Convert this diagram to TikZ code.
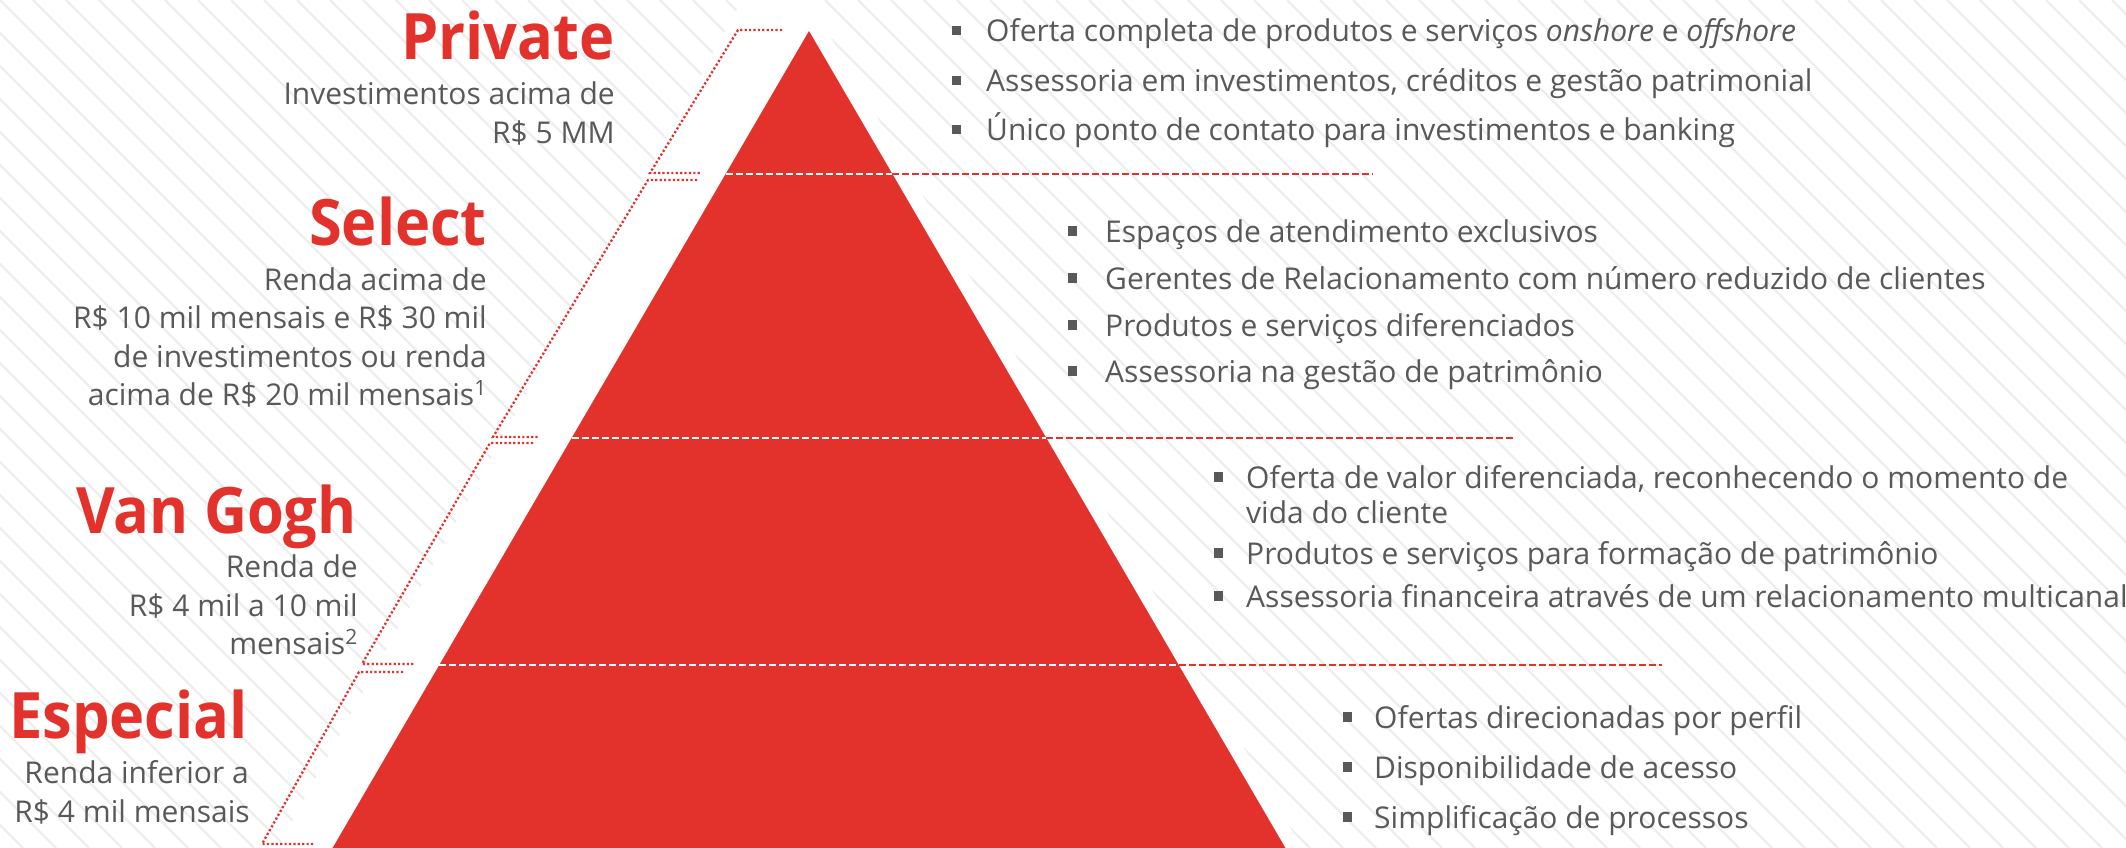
\documentclass[tikz,border=0pt]{standalone}
\usepackage{fontspec}
\setmainfont{Open Sans}
\newfontfamily\ttlfont{Open Sans}[FakeStretch=0.93]
\definecolor{pred}{RGB}{227,49,43}
\definecolor{ptext}{RGB}{89,89,89}
\definecolor{pstripe}{RGB}{238,238,238}
\newcommand{\bsq}[1]{\llap{\raisebox{6.5pt}{\rule{9.5pt}{9.5pt}}\hspace{#1pt}}}
\begin{document}
\begin{tikzpicture}[x=1pt,y=-1pt,
 ttl/.style={font=\fontsize{64}{70}\ttlfont\bfseries, text=pred, inner sep=0pt, anchor=base east},
 dsc/.style={font=\fontsize{30}{36}\selectfont, text=ptext, inner sep=0pt, anchor=base east},
 itm/.style={font=\fontsize{30}{36}\selectfont, text=ptext, inner sep=0pt, anchor=base west},
 divw/.style={draw=white, line width=2pt, dash pattern=on 7pt off 3pt},
 divr/.style={draw=pred, line width=2pt, dash pattern=on 7pt off 3pt},
 brk/.style={draw=pred, line width=2.3pt, dash pattern=on 2.2pt off 2.2pt},
]
\useasboundingbox (0,0) rectangle (2126,848);
\fill[white] (0,0) rectangle (2126,848);
\begin{scope}
 \clip (0,0) rectangle (2126,848);
 \foreach \k in {-27,...,65} { \draw[pstripe, line width=2.2pt] (\k*33,0) -- (\k*33+848,848); }
 \fill[white] (745,-5) -- (806,-5) -- (1305,853) -- (275,853) -- cycle;
\end{scope}

% pyramid
\coordinate (apex) at (809,31);
\coordinate (bl) at (331.4,850);
\coordinate (br) at (1286.6,850);
\fill[pred] (apex) -- (br) -- (bl) -- cycle;

% dividers
\coordinate (d1l) at (725.6,174); \coordinate (d1r) at (892.4,174); \coordinate (d1e) at (1373,174);
\coordinate (d2l) at (571.6,438); \coordinate (d2r) at (1046.4,438); \coordinate (d2e) at (1514,438);
\coordinate (d3l) at (439.2,665); \coordinate (d3r) at (1178.8,665); \coordinate (d3e) at (1662,665);
\draw[divw] (d1l) -- (d1r); \draw[divr] (d1r) -- (d1e);
\draw[divw] (d2l) -- (d2r); \draw[divr] (d2r) -- (d2e);
\draw[divw] (d3l) -- (d3r); \draw[divr] (d3r) -- (d3e);

% brackets
\coordinate (b1a) at (782,30); \coordinate (b1b) at (738,30); \coordinate (b1c) at (650,173); \coordinate (b1d) at (700,173);
\coordinate (b2a) at (697,180); \coordinate (b2b) at (648,180); \coordinate (b2c) at (493,437); \coordinate (b2d) at (538,437);
\coordinate (b3a) at (533,443); \coordinate (b3b) at (490,443); \coordinate (b3c) at (362,664); \coordinate (b3d) at (415,664);
\coordinate (b4a) at (403,672); \coordinate (b4b) at (359,672); \coordinate (b4c) at (262,844); \coordinate (b4d) at (313,844);
\draw[brk] (b1a) -- (b1b) -- (b1c) -- (b1d);
\draw[brk] (b2a) -- (b2b) -- (b2c) -- (b2d);
\draw[brk] (b3a) -- (b3b) -- (b3c) -- (b3d);
\draw[brk] (b4a) -- (b4b) -- (b4c) -- (b4d);

% left labels
\node[ttl] (tPriv) at (615,60) {Private};
\node[dsc] (pv1) at (615,105) {Investimentos acima de};
\node[dsc] (pv2) at (615,143) {R\$ 5 MM};

\node[ttl] (tSel) at (487,245) {Select};
\node[dsc] (se1) at (487,290) {Renda acima de};
\node[dsc] (se2) at (487,328) {R\$ 10 mil mensais e R\$ 30 mil};
\node[dsc] (se3) at (487,367) {de investimentos ou renda};
\node[dsc] (se4) at (487,405) {acima de R\$ 20 mil mensais\textsuperscript{1}};

\node[ttl] (tVG) at (357,533) {Van Gogh};
\node[dsc] (vg1) at (358,577) {Renda de};
\node[dsc] (vg2) at (358,616) {R\$ 4 mil a 10 mil};
\node[dsc] (vg3) at (358,654) {mensais\textsuperscript{2}};

\node[ttl] (tEsp) at (248,738) {Especial};
\node[dsc] (es1) at (249,783) {Renda inferior a};
\node[dsc] (es2) at (250,822) {R\$ 4 mil mensais};

% bullets
\node[itm] (ip1) at (986,42) {\bsq{25}Oferta completa de produtos e serviços \textit{onshore} e \textit{offshore}};
\node[itm] (ip2) at (986,92) {\bsq{25}Assessoria em investimentos, créditos e gestão patrimonial};
\node[itm] (ip3) at (986,141) {\bsq{25}Único ponto de contato para investimentos e banking};

\node[itm] (is1) at (1105,242) {\bsq{28}Espaços de atendimento exclusivos};
\node[itm] (is2) at (1105,289) {\bsq{28}Gerentes de Relacionamento com número reduzido de clientes};
\node[itm] (is3) at (1105,336) {\bsq{28}Produtos e serviços diferenciados};
\node[itm] (is4) at (1105,382) {\bsq{28}Assessoria na gestão de patrimônio};

\node[itm] (iv1) at (1246,488) {\bsq{23}Oferta de valor diferenciada, reconhecendo o momento de};
\node[itm] (iv1b) at (1246,523) {vida do cliente};
\node[itm] (iv2) at (1246,564) {\bsq{23}Produtos e serviços para formação de patrimônio};
\node[itm] (iv3) at (1246,607) {\bsq{23}Assessoria financeira através de um relacionamento multicanal};

\node[itm] (ie1) at (1374,728) {\bsq{22}Ofertas direcionadas por perfil};
\node[itm] (ie2) at (1374,778) {\bsq{22}Disponibilidade de acesso};
\node[itm] (ie3) at (1374,828) {\bsq{22}Simplificação de processos};
\end{tikzpicture}
\end{document}
